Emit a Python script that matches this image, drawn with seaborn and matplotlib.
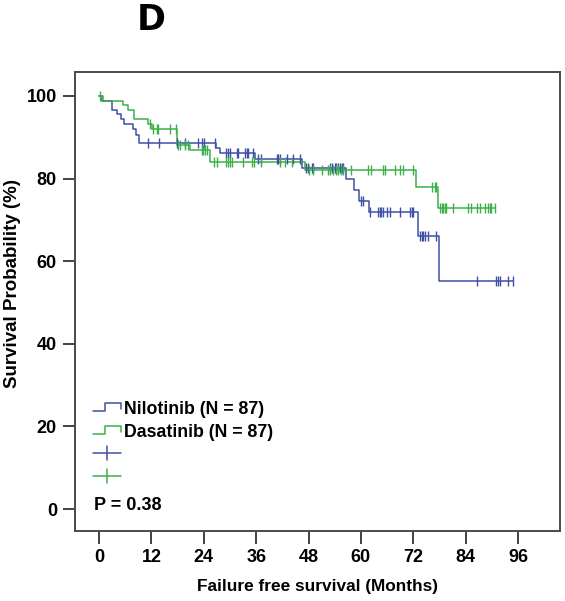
import numpy as np
import pandas as pd
import matplotlib
matplotlib.use("Agg")
import matplotlib.pyplot as plt
import seaborn as sns
from matplotlib.lines import Line2D

# Kaplan-Meier curves (months, survival %)
nilo_event_t = [0, 0.6, 2.9, 4.2, 5.0, 5.8, 7.9, 8.5, 9.2, 26.9, 27.7, 35.7, 46.4, 56.5, 58.3, 59.6, 61.8, 73.0, 77.9]
nilo_surv = [100, 98.9, 96.7, 95.6, 94.5, 93.3, 92.1, 90.6, 88.6, 87.5, 86.3, 84.8, 82.5, 79.8, 77.2, 74.5, 72.0, 66.1, 55.2]
nilo_end = 94.8
nilo_censor = [11.3, 13.7, 17.8, 19.7, 22.7, 23.5, 24.0, 26.6,
               29.0, 29.6, 30.0, 31.5, 31.9, 33.4, 33.8, 34.2, 35.3,
               36.5, 37.2, 40.7, 41.0, 41.4, 43.0, 44.5, 46.0,
               47.5, 47.9, 48.7, 49.1, 52.9, 53.3, 54.0, 54.4, 54.8, 55.2, 55.6, 55.9,
               60.0, 60.4,
               62.0, 63.9, 64.3, 64.7, 65.1, 65.9, 66.6, 68.9, 71.2, 71.6, 71.9,
               73.5, 73.9, 74.2, 74.6, 75.4, 77.3,
               86.5, 91.0, 91.4, 91.8, 93.7, 94.8]

dasa_event_t = [0, 0.9, 5.6, 6.7, 8.1, 11.3, 12.1, 17.8, 20.8, 25.4, 47.2, 72.7, 77.7]
dasa_surv = [100, 98.9, 97.7, 96.6, 94.4, 93.1, 92.0, 88.1, 87.0, 84.0, 82.1, 78.0, 73.0]
dasa_end = 90.7
dasa_censor = [0.2, 11.6, 12.4, 13.2, 13.6, 16.3, 17.6,
               18.2, 18.5, 19.7, 20.4,
               23.5, 23.9, 24.3, 24.7,
               26.3, 27.0, 29.2, 29.6, 30.0, 30.4, 33.0, 35.0, 35.4, 37.2, 41.4, 42.6, 44.2,
               48.0, 49.0, 51.0, 52.5, 53.0, 53.6, 54.2, 54.8, 55.4, 55.9, 57.8, 61.7, 62.3,
               65.1, 65.5, 67.8, 68.9, 69.7, 72.0,
               76.2, 76.9, 77.3,
               78.1, 78.5, 78.8, 79.2, 79.6, 81.1, 84.5, 85.3, 86.5, 87.2, 88.4, 89.1, 89.5, 89.8, 90.7]

groups = ["Nilotinib (N = 87)", "Dasatinib (N = 87)"]
colors = {"Nilotinib": "#3F4FA6", "Dasatinib": "#3DB049"}
x_ticks = [0, 12, 24, 36, 48, 60, 72, 84, 96]
y_ticks = [0, 20, 40, 60, 80, 100]
p_text = "P = 0.38"


def step_frame(times, surv, end, name):
    t = list(times) + [end]
    s = list(surv) + [surv[-1]]
    return pd.DataFrame({"time": t, "surv": s, "group": name})


def censor_frame(times, surv, censor, name):
    idx = np.searchsorted(times, censor, side="right") - 1
    return pd.DataFrame({"time": censor, "surv": np.array(surv)[idx], "group": name})


curves = pd.concat([step_frame(nilo_event_t, nilo_surv, nilo_end, "Nilotinib"),
                    step_frame(dasa_event_t, dasa_surv, dasa_end, "Dasatinib")])
ticks = pd.concat([censor_frame(nilo_event_t, nilo_surv, nilo_censor, "Nilotinib"),
                   censor_frame(dasa_event_t, dasa_surv, dasa_censor, "Dasatinib")])

sns.set_theme(style="white")
plt.rcParams['font.family'] = ['Liberation Sans', 'DejaVu Sans']
plt.rcParams['text.color'] = 'black'
plt.rcParams['axes.labelcolor'] = 'black'
plt.rcParams['xtick.color'] = 'black'
plt.rcParams['ytick.color'] = 'black'

W, H = 565, 601
fig = plt.figure(figsize=(W / 100, H / 100), dpi=100)
ax = fig.add_axes([75 / W, 1 - 531 / H, (560 - 75) / W, (531 - 72) / H])

for g in ["Nilotinib", "Dasatinib"]:
    d = curves[curves.group == g]
    sns.lineplot(data=d, x="time", y="surv", ax=ax, color=colors[g], lw=1.1,
                 drawstyle="steps-post", estimator=None, sort=False, legend=False)
    c = ticks[ticks.group == g]
    sns.scatterplot(data=c, x="time", y="surv", ax=ax, marker="|", s=55,
                    color=colors[g], linewidth=1.0, legend=False, zorder=3)

ax.set_xlim(-5.5, 105.6)
ax.set_ylim(-5.3, 105.8)
ax.set_xticks(x_ticks)
ax.set_yticks(y_ticks)
ax.set_xticklabels([str(v) for v in x_ticks], fontsize=13, fontweight="bold")
ax.set_yticklabels([str(v) for v in y_ticks], fontsize=13, fontweight="bold")
ax.tick_params(axis="both", direction="out", length=9, width=1.3, color="#333333", pad=4, bottom=True, left=True)
for sp in ax.spines.values():
    sp.set_color("#4a4a4a")
    sp.set_linewidth(1.4)
ax.set_xlabel("Failure free survival (Months)", fontsize=12.4, fontweight="bold", labelpad=9)
ax.set_ylabel("Survival Probability (%)", fontsize=13.5, fontweight="bold")
ax.yaxis.set_label_coords(-0.112, 0.54)
ax.grid(False)


def fx(px):
    return px / W


def fy(py):
    return 1 - py / H


# legend drawn by hand: step symbols and censor symbols
tf = fig.transFigure
for g, lab, yl in [("Nilotinib", groups[0], 410.7), ("Dasatinib", groups[1], 433.7)]:
    yh = yl - 7.5
    fig.add_artist(Line2D([fx(93), fx(105), fx(105), fx(121), fx(121)],
                          [fy(yl), fy(yl), fy(yh), fy(yh), fy(yl - 2)],
                          color=colors[g], lw=1.1, transform=tf))
    fig.text(fx(124), fy(yl - 1), lab, fontsize=12.8, fontweight="bold", va="center", ha="left")

for g, yc in [("Nilotinib", 452.7), ("Dasatinib", 476)]:
    fig.add_artist(Line2D([fx(93), fx(121)], [fy(yc), fy(yc)], color=colors[g], lw=1.1, transform=tf))
    fig.add_artist(Line2D([fx(106.5), fx(106.5)], [fy(yc - 7), fy(yc + 7)], color=colors[g], lw=1.1, transform=tf))

fig.text(fx(94), fy(505), p_text, fontsize=13, fontweight="bold", va="center", ha="left")
fig.text(fx(151), fy(20), "D", fontsize=25, fontweight="bold", va="center", ha="center", family="DejaVu Sans")

fig.savefig("out.png", dpi=100)
